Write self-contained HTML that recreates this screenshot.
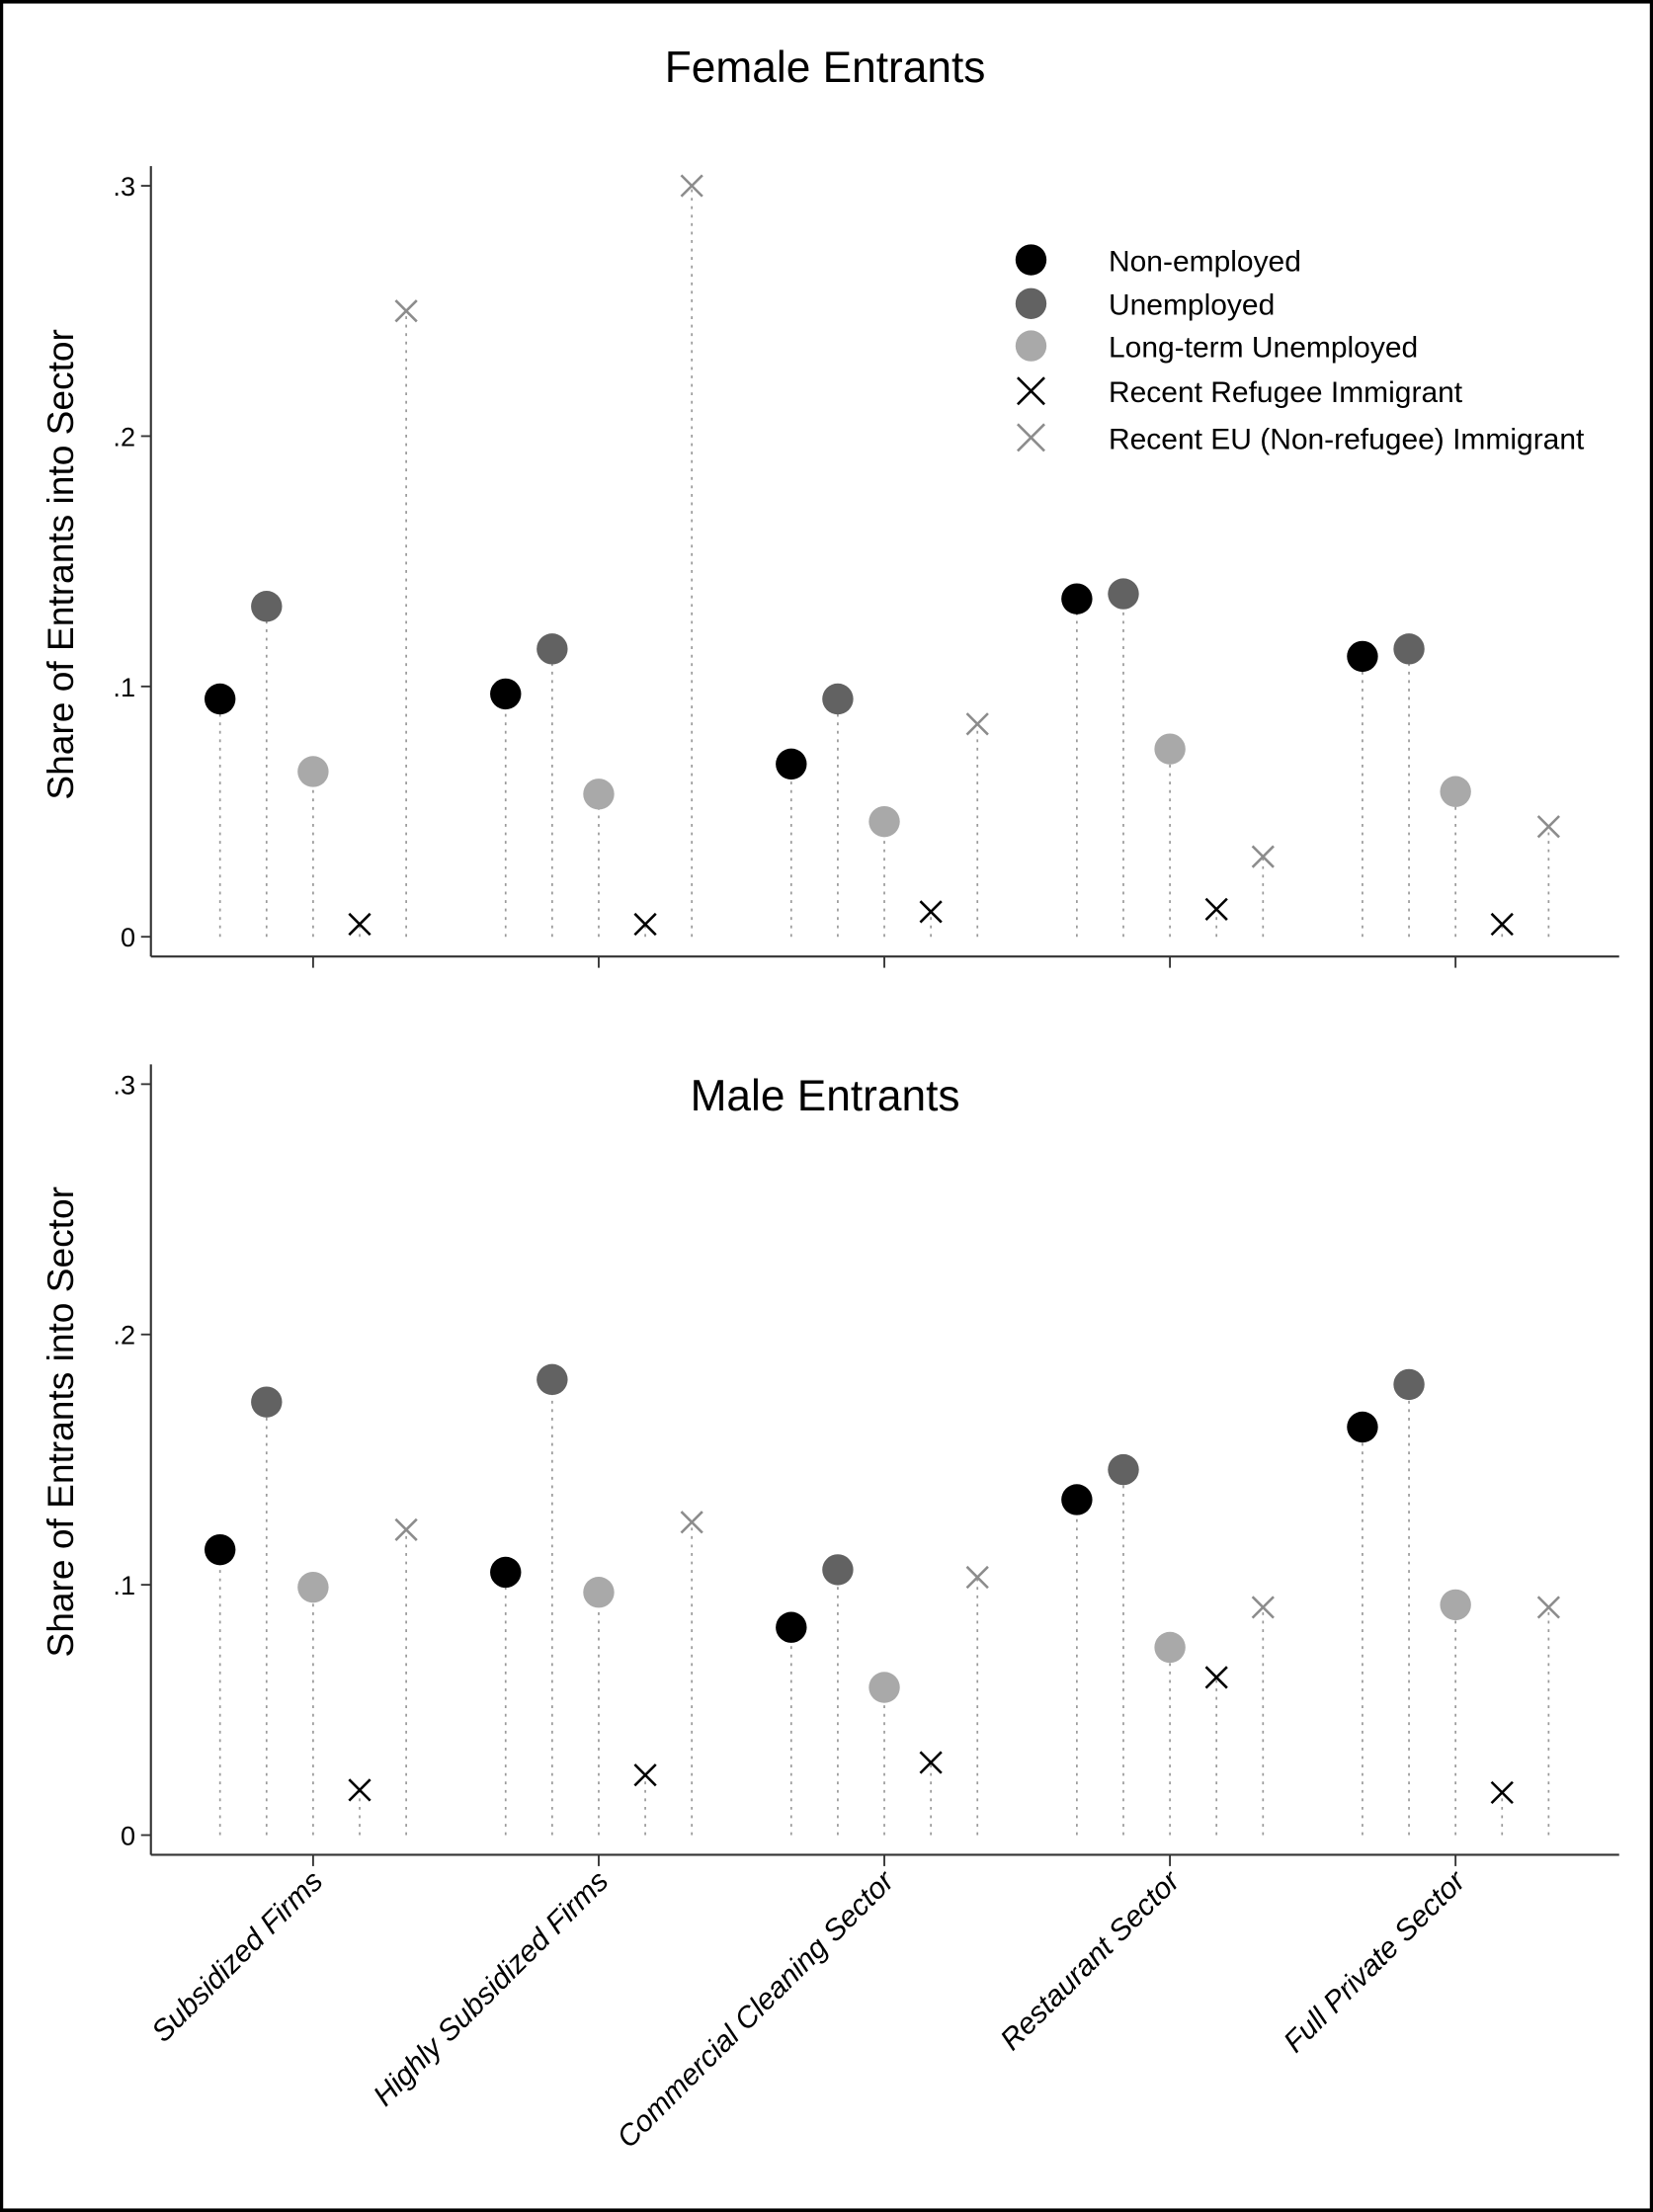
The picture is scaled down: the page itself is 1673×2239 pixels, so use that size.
<!DOCTYPE html>
<html><head><meta charset="utf-8"><style>
html,body{margin:0;padding:0;background:#fff;}
svg{display:block;font-family:"Liberation Sans",Arial,sans-serif;}
</style></head><body>
<svg id="chart" width="1673" height="2239" viewBox="0 0 1172 1568" xmlns="http://www.w3.org/2000/svg">
<rect x="1" y="1" width="1170" height="1566" fill="#fff" stroke="#000" stroke-width="2.5"/>
<g id="top"></g>
<g id="bot"></g>
<g id="legend"></g>
</svg>
<script>
const categories = ["Subsidized Firms","Highly Subsidized Firms","Commercial Cleaning Sector","Restaurant Sector","Full Private Sector"];
const seriesNames = ["Non-employed","Unemployed","Long-term Unemployed","Recent Refugee Immigrant","Recent EU (Non-refugee) Immigrant"];
const femaleNonEmployed = [0.095,0.097,0.069,0.135,0.112];
const femaleUnemployed = [0.132,0.115,0.095,0.137,0.115];
const femaleLongTerm = [0.066,0.057,0.046,0.075,0.058];
const femaleRefugee = [0.005,0.005,0.010,0.011,0.005];
const femaleEU = [0.250,0.300,0.085,0.032,0.044];
const maleNonEmployed = [0.114,0.105,0.083,0.134,0.163];
const maleUnemployed = [0.173,0.182,0.106,0.146,0.180];
const maleLongTerm = [0.099,0.097,0.059,0.075,0.092];
const maleRefugee = [0.018,0.024,0.029,0.063,0.017];
const maleEU = [0.122,0.125,0.103,0.091,0.091];
const yTicks = [0,0.1,0.2,0.3];
const yTickLabels = ["0",".1",".2",".3"];

const NS="http://www.w3.org/2000/svg";
const styles=[{t:"c",c:"#000"},{t:"c",c:"#626262"},{t:"c",c:"#a9a9a9"},{t:"x",c:"#000"},{t:"x",c:"#8c8c8c"}];
function mk(tag,attrs,parent){const e=document.createElementNS(NS,tag);for(const k in attrs)e.setAttribute(k,attrs[k]);parent.appendChild(e);return e;}
function xPos(ci,si){return 222+ci*202.5+(si-2)*33;}
function drawMarker(g,s,x,y,d){
  if(s.t==="c"){return mk("circle",{cx:x,cy:y,r:11,fill:s.c},g);}
  d=d||7.5;
  return mk("path",{d:`M${x-d},${y-d}L${x+d},${y+d}M${x+d},${y-d}L${x-d},${y+d}`,stroke:s.c,"stroke-width":1.8,fill:"none"},g);
}
function panel(g,title,y0,series,showCats,titleY,ylabY){
  const yScale=v=>y0-v*1775;
  const axisX=107, axisY=y0+14;
  const t=mk("text",{x:585,y:titleY,"text-anchor":"middle","font-size":31},g);
  t.textContent=title;
  
  
  const ya=mk("line",{x1:axisX,y1:yScale(0.3)-14,x2:axisX,y2:axisY,stroke:"#333","stroke-width":1.5},g);
  
  
  const xa=mk("line",{x1:axisX,y1:axisY,x2:1148,y2:axisY,stroke:"#333","stroke-width":1.5},g);
  
  
  yTicks.forEach((v,i)=>{
    const y=yScale(v);
    mk("line",{x1:axisX-7,y1:y,x2:axisX,y2:y,stroke:"#333","stroke-width":1.3},g);
    const tl=mk("text",{x:axisX-11,y:y+7,"text-anchor":"end","font-size":19},g);
    tl.textContent=yTickLabels[i];
    
    
  });
  const yl=mk("text",{transform:`translate(52,${ylabY}) rotate(-90)`,"text-anchor":"middle","font-size":26},g);
  yl.textContent="Share of Entrants into Sector";
  
  
  categories.forEach((c,ci)=>{
    const tx=xPos(ci,2);
    mk("line",{x1:tx,y1:axisY,x2:tx,y2:axisY+8,stroke:"#333","stroke-width":1.3},g);
    if(showCats){
      const cl=mk("text",{transform:`translate(${tx+8},${axisY+20}) rotate(-45)`,"text-anchor":"end","font-size":21,"font-style":"italic"},g);
      cl.textContent=c;
      
      
    }
    series.forEach((arr,si)=>{
      const x=xPos(ci,si), y=yScale(arr[ci]);
      const st=mk("line",{x1:x,y1:yScale(0),x2:x,y2:y,stroke:"#9a9a9a","stroke-width":1.2,"stroke-dasharray":"2 4"},g);
      
      
      const m=drawMarker(g,styles[si],x,y);
      
      
    });
  });
}
panel(document.getElementById("top"),"Female Entrants",664,[femaleNonEmployed,femaleUnemployed,femaleLongTerm,femaleRefugee,femaleEU],false,58,400);
panel(document.getElementById("bot"),"Male Entrants",1301,[maleNonEmployed,maleUnemployed,maleLongTerm,maleRefugee,maleEU],true,787,1008);
const lg=document.getElementById("legend");
const ly=[184,215,245,277,310];
seriesNames.forEach((n,i)=>{
  const m=drawMarker(lg,styles[i],731,ly[i],9.5);
  
  
  const t=mk("text",{x:786,y:ly[i]+8,"font-size":21},lg);
  t.textContent=n;
  
  
});
</script>
</body></html>
